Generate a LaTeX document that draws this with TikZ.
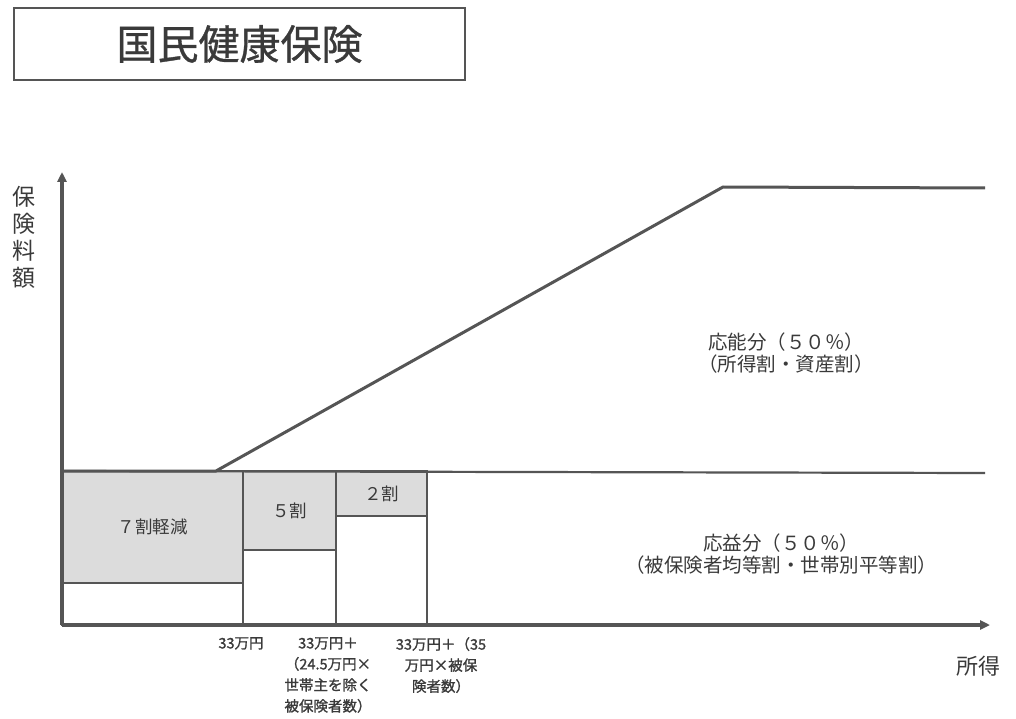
\documentclass[tikz,border=0pt]{standalone}
\usepackage{fontspec}
\setmainfont{Noto Sans CJK JP}
\newfontfamily\jpmed[FakeBold=1.3]{Noto Sans CJK JP}
\newfontfamily\jptitle[FakeBold=0.8]{Noto Sans CJK JP}
\usetikzlibrary{arrows.meta}
\definecolor{ink}{HTML}{555555}
\definecolor{txt}{HTML}{3A3A3A}
\definecolor{shade}{HTML}{DCDCDC}
\begin{document}
\begin{tikzpicture}[x=1pt,y=-1pt,
  axisline/.style={draw=ink,line width=4pt,-{Triangle[length=10pt,width=9pt]}},
  mainline/.style={draw=ink,line width=3pt,line join=round},
  boxline/.style={draw=ink,line width=1.8pt},
  graybox/.style={boxline,fill=shade},
  lbl/.style={text=txt,inner sep=0pt,align=center},
  thr/.style={lbl,anchor=north,font=\jpmed\fontsize{14.5}{21}\selectfont},
]
\useasboundingbox (0,0) rectangle (1016,719);
\fill[white] (0,0) rectangle (1016,719);
% title
\node[draw=ink,line width=1.8pt,minimum width=451pt,minimum height=72pt,inner sep=0pt,text=txt,font=\jptitle\fontsize{41}{44}\selectfont] (title) at (239.5,44) {国民健康保険};
% coordinates
\coordinate (O) at (62,625);
\coordinate (ytop) at (62,172);
\coordinate (xend) at (990,625);
\coordinate (b0) at (62,471);
\coordinate (s0) at (216,471);
\coordinate (s1) at (723,187);
\coordinate (s2) at (985,188);
\coordinate (bend) at (985,473);
% boxes
\path[graybox] (62,471) rectangle (243,583) node[pos=.5,lbl,font=\fontsize{17.5}{20}\selectfont] (b7) {７割軽減};
\path[boxline] (62,583) rectangle (243,625) coordinate (w7);
\path[graybox] (243,471) rectangle (336,550) node[pos=.5,lbl,font=\fontsize{17.5}{20}\selectfont] (b5) {５割};
\path[boxline] (243,550) rectangle (336,625) coordinate (w5);
\path[graybox] (336,471) rectangle (427,516) node[pos=.5,lbl,font=\fontsize{17.5}{20}\selectfont] (b2) {２割};
\path[boxline] (336,516) rectangle (427,625) coordinate (w2);
% main lines
\draw[mainline] (b0) -- (s0) -- (s1) -- (s2);
\draw[boxline,line width=2.2pt] (b0) -- (bend);
% axes
\draw[axisline] (O) -- (ytop);
\draw[axisline] (O) -- (xend);
% axis labels
\node[lbl,font=\fontsize{23}{27}\selectfont] (ylab) at (24,237) {保\\険\\料\\額};
\node[lbl,font=\fontsize{22}{26}\selectfont] (xlab) at (978,666) {所得};
% region labels
\node[lbl,font=\fontsize{19.5}{22}\selectfont] (onou) at (786,353) {応能分（５０％）\\（所得割・資産割）};
\node[lbl,font=\fontsize{19.5}{22}\selectfont] (oeki) at (781,554) {応益分（５０％）\\（被保険者均等割・世帯別平等割）};
% threshold labels
\node[thr] (t1) at (241,637) {33万円};
\node[thr] (t2) at (328,637) {33万円＋\\（24.5万円×\\世帯主を除く\\被保険者数）};
\node[thr] (t3) at (441,637) {33万円＋（35\\万円×被保\\険者数）};
\end{tikzpicture}
\end{document}
